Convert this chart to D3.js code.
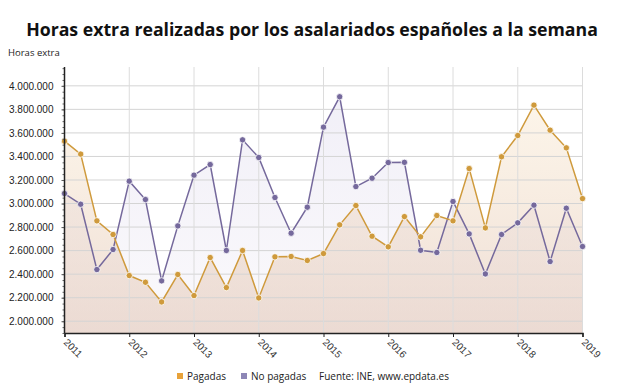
<!DOCTYPE html>
<html>
<head>
<meta charset="utf-8">
<script src="https://cdn.jsdelivr.net/npm/d3@7"></script>
<style>
  body { margin: 0; background: #fff; }
  svg { font-family: "Open Sans", sans-serif; }
</style>
</head>
<body>
<div id="chart"></div>
<script>
// quarterly values, 2011 T1 .. 2019 T1
var pagadas = [
  3530000, 3420000, 2853000, 2737000,
  2388000, 2331000, 2164000, 2397000,
  2218000, 2541000, 2286000, 2601000,
  2198000, 2547000, 2550000, 2516000,
  2575000, 2819000, 2983000, 2722000,
  2632000, 2889000, 2717000, 2898000,
  2853000, 3297000, 2793000, 3397000,
  3578000, 3836000, 3623000, 3473000,
  3042000
];
var noPagadas = [
  3085000, 2994000, 2439000, 2609000,
  3190000, 3034000, 2343000, 2810000,
  3241000, 3331000, 2601000, 3541000,
  3391000, 3051000, 2748000, 2969000,
  3649000, 3907000, 3144000, 3215000,
  3348000, 3350000, 2603000, 2584000,
  3017000, 2742000, 2402000, 2737000,
  2836000, 2986000, 2507000, 2960000,
  2635000
];
var years = [2011, 2012, 2013, 2014, 2015, 2016, 2017, 2018, 2019];
var yTicks = [2000000, 2200000, 2400000, 2600000, 2800000, 3000000,
              3200000, 3400000, 3600000, 3800000, 4000000];

var W = 624, H = 385;
var pLeft = 64.5, pRight = 582.5, pTop = 67, pBottom = 333;
var colPag = "#cf9a3c", colNo = "#75699c";

var svg = d3.select("#chart").append("svg")
  .attr("width", W).attr("height", H);

var x = d3.scaleLinear().domain([2011, 2019]).range([pLeft, pRight]);
var y = d3.scaleLinear().domain([1900000, 4160000]).range([pBottom, pTop]);

function xq(d, i) { return x(2011 + i / 4); }

// gradients
var defs = svg.append("defs");
var g1 = defs.append("linearGradient").attr("id", "gPag")
  .attr("gradientUnits", "userSpaceOnUse")
  .attr("x1", 0).attr("x2", 0).attr("y1", pTop).attr("y2", pBottom);
g1.append("stop").attr("offset", "0%").attr("stop-color", "#fce9c8").attr("stop-opacity", 0.35);
g1.append("stop").attr("offset", "100%").attr("stop-color", "#ddbcaa").attr("stop-opacity", 0.5);
var g2 = defs.append("linearGradient").attr("id", "gNo")
  .attr("gradientUnits", "userSpaceOnUse")
  .attr("x1", 0).attr("x2", 0).attr("y1", pTop).attr("y2", pBottom);
g2.append("stop").attr("offset", "0%").attr("stop-color", "#d2cde8").attr("stop-opacity", 0.35);
g2.append("stop").attr("offset", "100%").attr("stop-color", "#e6e0ee").attr("stop-opacity", 0.2);

// areas
var area = d3.area().x(xq).y0(pBottom).y1(function(d) { return y(d); });
svg.append("path").datum(noPagadas).attr("d", area).attr("fill", "url(#gNo)");
svg.append("path").datum(pagadas).attr("d", area).attr("fill", "url(#gPag)");

// grid
svg.append("g").selectAll("line").data(yTicks).enter().append("line")
  .attr("x1", pLeft).attr("x2", pRight)
  .attr("y1", function(d) { return y(d); }).attr("y2", function(d) { return y(d); })
  .attr("stroke", "#d4d4d4").attr("stroke-width", 1);
svg.append("g").selectAll("line").data(years.slice(1)).enter().append("line")
  .attr("y1", pTop).attr("y2", pBottom)
  .attr("x1", function(d) { return x(d); }).attr("x2", function(d) { return x(d); })
  .attr("stroke", "#dcdcdc").attr("stroke-width", 1);

// lines
var line = d3.line().x(xq).y(function(d) { return y(d); });
svg.append("path").datum(noPagadas).attr("d", line)
  .attr("fill", "none").attr("stroke", colNo).attr("stroke-width", 1.5);
svg.append("path").datum(pagadas).attr("d", line)
  .attr("fill", "none").attr("stroke", colPag).attr("stroke-width", 1.5);

svg.append("g").selectAll("circle").data(noPagadas).enter().append("circle")
  .attr("cx", xq).attr("cy", function(d) { return y(d); }).attr("r", 3.2)
  .attr("fill", colNo).attr("stroke", "#fff").attr("stroke-width", 0.8);
svg.append("g").selectAll("circle").data(pagadas).enter().append("circle")
  .attr("cx", xq).attr("cy", function(d) { return y(d); }).attr("r", 3.2)
  .attr("fill", colPag).attr("stroke", "#fff").attr("stroke-width", 0.8);

// y axis
var yAxis = svg.append("g").attr("transform", "translate(" + pLeft + ",0)")
  .call(d3.axisLeft(y).tickValues(yTicks).tickSize(3).tickPadding(8)
    .tickFormat(function(d) { return d3.format(",")(d).replace(/,/g, "."); }));
yAxis.select(".domain").remove();
yAxis.selectAll("text").attr("font-size", 10).attr("fill", "#222");
yAxis.selectAll("line").attr("stroke", "#555");
svg.append("g").attr("transform", "translate(" + pLeft + ",0)")
  .call(d3.axisLeft(y).ticks(60).tickSize(2).tickFormat(""))
  .call(function(g) { g.select(".domain").remove(); })
  .selectAll("line").attr("stroke", "#666");
svg.append("line").attr("x1", pLeft).attr("x2", pLeft).attr("y1", pTop).attr("y2", pBottom)
  .attr("stroke", "#222").attr("stroke-width", 1.5);

// x axis
var xAxis = svg.append("g").attr("transform", "translate(0," + pBottom + ")")
  .call(d3.axisBottom(x).tickValues(years).tickSize(4).tickFormat(d3.format("d")));
xAxis.select(".domain").attr("stroke", "#222").attr("stroke-width", 1.5);
xAxis.selectAll("line").attr("stroke", "#222");
xAxis.selectAll("text")
  .attr("font-size", 10).attr("fill", "#333")
  .attr("text-anchor", "start").attr("dy", 0).attr("y", 0)
  .attr("transform", "translate(-2,10) rotate(45)");

// titles
svg.append("text").attr("x", W / 2).attr("y", 36).attr("text-anchor", "middle")
  .attr("font-size", 17.7).attr("font-weight", "bold").attr("fill", "#111")
  .text("Horas extra realizadas por los asalariados españoles a la semana");
svg.append("text").attr("x", 8).attr("y", 56)
  .attr("font-size", 9.5).attr("fill", "#222").text("Horas extra");

// legend
var leg = svg.append("g").attr("font-size", 10).attr("fill", "#222");
leg.append("rect").attr("x", 177).attr("y", 373).attr("width", 6).attr("height", 6).attr("fill", "#e8a23a");
leg.append("text").attr("x", 187).attr("y", 380).text("Pagadas");
leg.append("rect").attr("x", 241).attr("y", 373).attr("width", 6).attr("height", 6).attr("fill", "#8d86b6");
leg.append("text").attr("x", 251).attr("y", 380).text("No pagadas");
leg.append("text").attr("x", 319).attr("y", 380).text("Fuente: INE, www.epdata.es");
</script>
</body>
</html>
